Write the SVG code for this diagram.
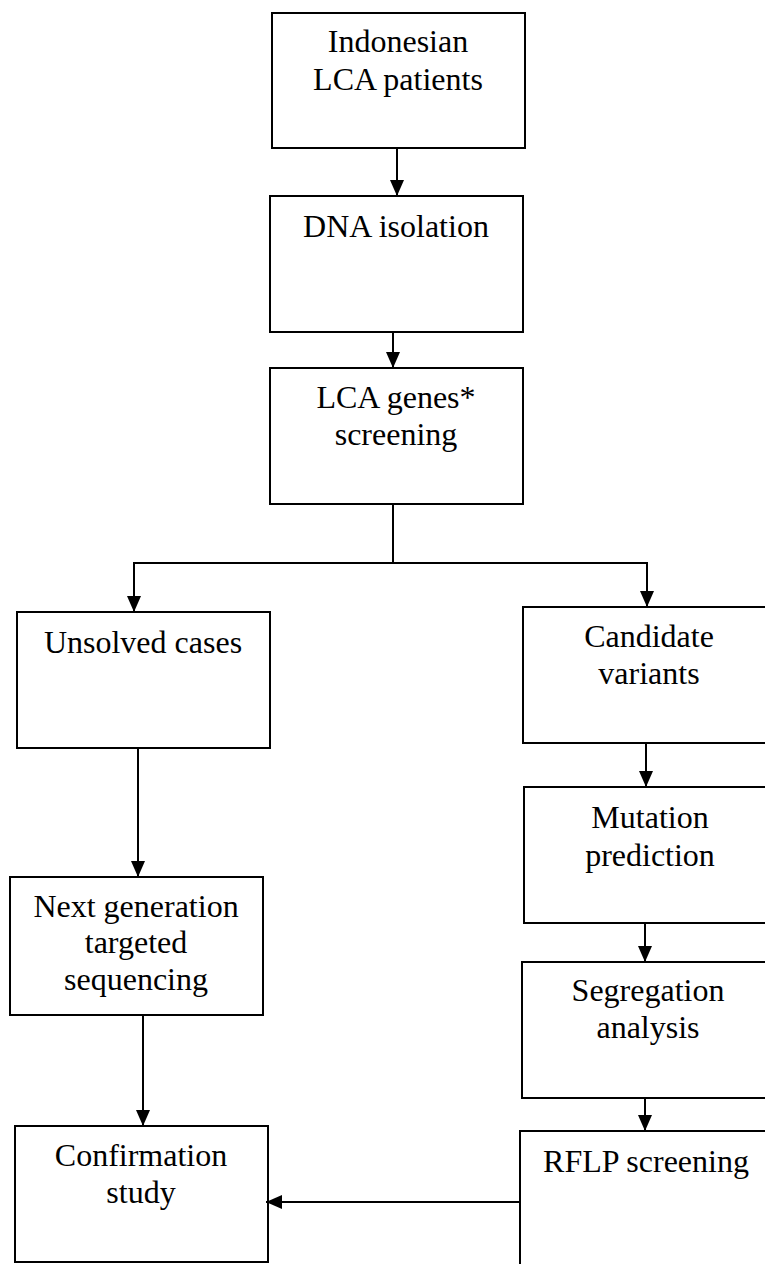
<svg xmlns="http://www.w3.org/2000/svg" width="765" height="1264" viewBox="0 0 765 1264">
<style>
.box{fill:#fff;stroke:#000;stroke-width:2}
.t{font-family:"Liberation Serif","Times New Roman",serif;font-size:32px;fill:#000;text-anchor:middle}
.c{fill:none;stroke:#000;stroke-width:2}
</style>
<defs>
<marker id="ah" viewBox="0 0 16 14" refX="16" refY="7" markerWidth="16" markerHeight="14" markerUnits="userSpaceOnUse" orient="auto">
<path d="M0,0 L16,7 L0,14 z" fill="#000"/>
</marker>
</defs>
<rect width="765" height="1264" fill="#fff"/>
<g id="n1"><rect class="box" x="272" y="13" width="253" height="135"/><text class="t" x="398" y="52">Indonesian</text><text class="t" x="398" y="90">LCA patients</text></g>
<g id="n2"><rect class="box" x="270" y="196" width="253" height="136"/><text class="t" x="396" y="237">DNA isolation</text></g>
<g id="n3"><rect class="box" x="270" y="368" width="253" height="136"/><text class="t" x="396" y="408">LCA genes*</text><text class="t" x="396" y="445">screening</text></g>
<g id="n4"><rect class="box" x="17" y="612" width="253" height="136"/><text class="t" x="143" y="653">Unsolved cases</text></g>
<g id="n5"><rect class="box" x="523" y="607" width="253" height="136"/><text class="t" x="649" y="647">Candidate</text><text class="t" x="649" y="684">variants</text></g>
<g id="n6"><rect class="box" x="524" y="787" width="253" height="136"/><text class="t" x="650" y="828">Mutation</text><text class="t" x="650" y="866">prediction</text></g>
<g id="n7"><rect class="box" x="10" y="877" width="253" height="138"/><text class="t" x="136" y="917">Next generation</text><text class="t" x="136" y="953">targeted</text><text class="t" x="136" y="990">sequencing</text></g>
<g id="n8"><rect class="box" x="522" y="962" width="253" height="136"/><text class="t" x="648" y="1001">Segregation</text><text class="t" x="648" y="1038">analysis</text></g>
<g id="n9"><rect class="box" x="15" y="1126" width="253" height="136"/><text class="t" x="141" y="1166">Confirmation</text><text class="t" x="141" y="1203">study</text></g>
<g id="n10"><rect class="box" x="520" y="1131" width="253" height="140"/><text class="t" x="646" y="1172">RFLP screening</text></g>
<g id="connectors">
<path class="c" d="M397,148 V196" marker-end="url(#ah)"/>
<path class="c" d="M393,332 V368" marker-end="url(#ah)"/>
<path class="c" d="M393,504 V563"/>
<path class="c" d="M393,563 H134 V612" marker-end="url(#ah)"/>
<path class="c" d="M393,563 H647 V607" marker-end="url(#ah)"/>
<path class="c" d="M646,743 V787" marker-end="url(#ah)"/>
<path class="c" d="M645,923 V962" marker-end="url(#ah)"/>
<path class="c" d="M645,1098 V1131" marker-end="url(#ah)"/>
<path class="c" d="M138,748 V877" marker-end="url(#ah)"/>
<path class="c" d="M143,1015 V1126" marker-end="url(#ah)"/>
<path class="c" d="M520,1202 H266" marker-end="url(#ah)"/>
</g>
</svg>
